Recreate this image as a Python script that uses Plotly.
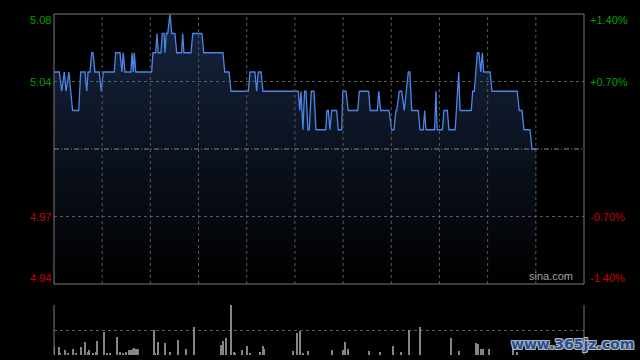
import plotly.graph_objects as go

# ---------------- data ----------------
ref_price = 5.01                      # previous close
pct_levels = [0.014, 0.007, -0.007, -0.014]
price_tick_labels = ["5.08", "5.04", "4.97", "4.94"]
pct_tick_labels = ["+1.40%", "+0.70%", "-0.70%", "-1.40%"]
session_minutes = 330                 # 09:30-12:00 + 13:00-16:00
grid_minutes = [30, 60, 90, 120, 150, 180, 210, 240, 270, 300]

minutes = [0, 3.3, 4.8, 6.4, 7.5, 9.3, 10.4, 11.6, 15.4, 16.6, 19.3, 20.4, 21.2, 22.4,
           23.5, 24.3, 25.5, 28.2, 29.4, 30.7, 37.5, 38.4, 41.1, 42.3, 43.1, 44.2, 47.9,
           48.6, 49.4, 50.0, 50.9, 60.8, 61.6, 63.3, 64.1, 64.9, 66.6, 67.4, 68.5, 69.1,
           69.9, 70.8, 72.2, 73.3, 75.3, 76.4, 79.5, 80.1, 80.9, 85.3, 86.4, 92.1, 93.2,
           105.2, 106.3, 109.0, 110.2, 121.0, 122.0, 125.1, 126.2, 127.2, 128.9, 130.1,
           152.1, 153.0, 153.8, 155.0, 156.0, 156.9, 158.1, 158.9, 160.2, 161.9, 163.1,
           169.2, 170.0, 170.8, 171.8, 172.9, 176.0, 177.0, 179.1, 179.8, 181.8, 183.2,
           189.1, 190.1, 195.9, 196.9, 201.3, 202.2, 203.4, 208.6, 210.3, 211.7, 212.9,
           213.4, 215.0, 216.5, 218.1, 220.6, 221.6, 222.7, 226.8, 227.9, 229.9, 230.8,
           231.6, 237.0, 237.8, 238.6, 241.8, 242.8, 244.9, 245.9, 249.8, 252.0, 252.8,
           259.8, 260.7, 261.7, 263.6, 264.6, 265.7, 266.7, 267.5, 271.5, 272.7, 288.4,
           289.7, 291.4, 292.6, 296.4, 297.6, 300.5]
prices = [5.05, 5.05, 5.04, 5.05, 5.04, 5.05, 5.04, 5.03, 5.03, 5.05, 5.05, 5.04, 5.05, 5.05,
          5.06, 5.06, 5.05, 5.05, 5.04, 5.05, 5.05, 5.06, 5.06, 5.05, 5.06, 5.05, 5.05,
          5.06, 5.05, 5.06, 5.05, 5.05, 5.06, 5.06, 5.07, 5.06, 5.06, 5.07, 5.07, 5.06,
          5.07, 5.07, 5.08, 5.07, 5.07, 5.06, 5.06, 5.07, 5.06, 5.06, 5.07, 5.07, 5.06,
          5.06, 5.05, 5.05, 5.04, 5.04, 5.05, 5.05, 5.04, 5.05, 5.05, 5.04,
          5.04, 5.03, 5.04, 5.02, 5.04, 5.04, 5.02, 5.02, 5.04, 5.04, 5.02,
          5.02, 5.03, 5.03, 5.02, 5.03, 5.03, 5.02, 5.02, 5.04, 5.04, 5.03,
          5.03, 5.04, 5.04, 5.03, 5.03, 5.04, 5.03, 5.03, 5.02, 5.02, 5.03,
          5.03, 5.04, 5.04, 5.03, 5.05, 5.05, 5.03, 5.03, 5.02, 5.02, 5.03,
          5.02, 5.02, 5.04, 5.02, 5.02, 5.03, 5.03, 5.02, 5.02, 5.05, 5.03,
          5.03, 5.04, 5.04, 5.06, 5.06, 5.05, 5.06, 5.05, 5.05, 5.04, 5.04,
          5.03, 5.03, 5.02, 5.02, 5.01, 5.01]

vol_minutes = [0, 3, 4, 7, 9, 12, 14, 17, 19, 21, 22, 24, 26, 27, 31, 33, 35, 39, 41, 43, 45,
               47, 48, 49, 50, 51, 52, 62, 63, 65, 69, 72, 77, 82, 87, 104, 105, 107, 110,
               112, 113, 117, 120, 122, 128, 130, 131, 149, 151, 153, 155, 158, 173, 180,
               181, 183, 196, 203, 211, 216, 221, 228, 247, 252, 263, 264, 266, 267, 271,
               286, 288]
volumes = [18, 16, 5, 11, 3, 12, 3, 16, 26, 6, 10, 5, 6, 28, 46, 3, 5, 36, 6, 3, 6,
           10, 10, 12, 14, 13, 12, 50, 3, 26, 24, 6, 30, 12, 56, 20, 28, 34, 130,
           7, 5, 11, 18, 3, 6, 18, 12, 8, 44, 48, 5, 8, 10, 10,
           26, 12, 8, 6, 18, 6, 51, 56, 34, 9, 24, 23, 12, 12, 12,
           22, 7]
vol_max = 100

# ---------------- figure ----------------
y_lo = ref_price * (1 + min(pct_levels))
y_hi = ref_price * (1 + max(pct_levels))

GRID = "#5a5a5a"
BORDER = "#7a7a7a"
GREEN = "#00a000"
RED = "#d00000"

fig = go.Figure()

fig.add_trace(go.Scatter(
    x=minutes, y=prices, mode="lines",
    line=dict(color="#4a86e6", width=1.3),
    fill="tozeroy",
    fillgradient=dict(type="vertical",
                      colorscale=[[0, "#000000"], [1, "#17253f"]],
                      start=y_lo, stop=y_hi),
    hoverinfo="skip", showlegend=False,
    xaxis="x", yaxis="y"))

fig.add_trace(go.Bar(
    x=vol_minutes, y=volumes, width=0.62,
    marker=dict(color="#858585", line=dict(width=0)),
    hoverinfo="skip", showlegend=False,
    xaxis="x2", yaxis="y3"))

main_bottom = (355 - 284) / 341
vol_top = (355 - 305) / 341

fig.update_layout(
    width=640, height=360,
    margin=dict(l=54, r=56, t=14, b=5),
    paper_bgcolor="#000000", plot_bgcolor="#000000",
    font=dict(family="Liberation Sans, Arial, sans-serif", size=11),
    bargap=0,
    xaxis=dict(domain=[0, 1], range=[0, session_minutes], showgrid=False,
               showticklabels=False, zeroline=False, showline=False, fixedrange=True),
    yaxis=dict(domain=[main_bottom, 1], range=[y_lo, y_hi], showgrid=False,
               showticklabels=False, zeroline=False, showline=False, fixedrange=True),
    xaxis2=dict(domain=[0, 1], range=[0, session_minutes], anchor="y3", showgrid=False,
                showticklabels=False, zeroline=False, showline=False, fixedrange=True),
    yaxis3=dict(domain=[0, vol_top], range=[0, vol_max], anchor="x2",
                tickvals=[0, vol_max / 2, vol_max], showgrid=True, gridcolor=GRID,
                griddash="dot", gridwidth=1,
                showticklabels=False, zeroline=False, showline=False, fixedrange=True),
)

shapes = []
# vertical grid lines (main panel)
for m in grid_minutes:
    shapes.append(dict(type="line", xref="x", yref="y domain", x0=m, x1=m, y0=0, y1=1,
                       line=dict(color=GRID, width=1, dash="dot"), layer="above"))
# horizontal grid lines
for p in pct_levels:
    v = ref_price * (1 + p)
    if abs(p) < max(pct_levels):
        shapes.append(dict(type="line", xref="x domain", yref="y", x0=0, x1=1, y0=v, y1=v,
                           line=dict(color=GRID, width=1, dash="dot"), layer="above"))
# previous close line
shapes.append(dict(type="line", xref="x domain", yref="y", x0=0, x1=1,
                   y0=ref_price, y1=ref_price,
                   line=dict(color="#8a8a8a", width=1, dash="5px,2px,1px,2px"),
                   layer="above"))
# main frame
shapes.append(dict(type="rect", xref="x domain", yref="y domain", x0=0, x1=1, y0=0, y1=1,
                   line=dict(color=BORDER, width=1), fillcolor="rgba(0,0,0,0)",
                   layer="above"))
# volume panel side borders
for xx in (0, 1):
    shapes.append(dict(type="line", xref="x2 domain", yref="y3 domain", x0=xx, x1=xx,
                       y0=0, y1=1, line=dict(color=BORDER, width=1), layer="above"))

annotations = []
for p, plab, qlab in zip(pct_levels, price_tick_labels, pct_tick_labels):
    v = ref_price * (1 + p)
    col = GREEN if p > 0 else RED
    shift = 0
    if p == max(pct_levels):
        shift = -6
    elif p == min(pct_levels):
        shift = 6
    annotations.append(dict(xref="paper", yref="y", x=0, y=v, text=plab,
                            xanchor="right", yanchor="middle", xshift=-1, yshift=shift,
                            showarrow=False, font=dict(color=col, size=11)))
    annotations.append(dict(xref="paper", yref="y", x=1, y=v, text=qlab,
                            xanchor="left", yanchor="middle", xshift=4, yshift=shift,
                            showarrow=False, font=dict(color=col, size=11)))

annotations.append(dict(xref="paper", yref="y", x=1, y=y_lo, text="sina.com",
                        xanchor="right", yanchor="bottom", xshift=-9, yshift=0,
                        showarrow=False, font=dict(color="#a0a0a0", size=11)))

annotations.append(dict(xref="paper", yref="paper", x=1, y=0, text="www.365jz.com",
                        xanchor="right", yanchor="middle", xshift=52, yshift=11,
                        showarrow=False,
                        font=dict(family="DejaVu Sans", size=14, color="#21509a",
                                  weight="bold",
                                  shadow="1px 1px 0 #b8b8b8, -1px -1px 0 #b8b8b8, "
                                         "1px -1px 0 #b8b8b8, -1px 1px 0 #b8b8b8")))

fig.update_layout(shapes=shapes, annotations=annotations)

fig.write_html("out.html")
